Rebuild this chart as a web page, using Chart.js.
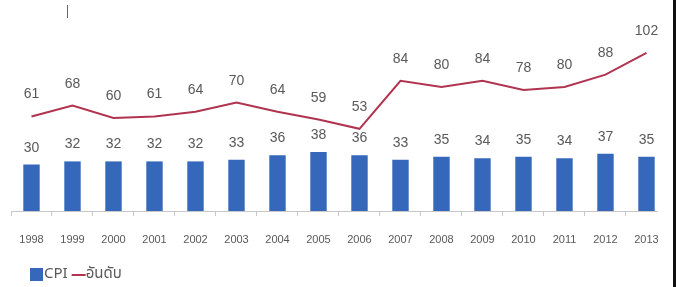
<!DOCTYPE html>
<html>
<head>
<meta charset="utf-8">
<script src="https://cdn.jsdelivr.net/npm/chart.js@4"></script>
<style>
  body { margin: 0; background: #fff; }
  #wrap { position: relative; width: 676px; height: 287px; }
  #clip { position: absolute; left: 0; top: 0; width: 658px; height: 287px; overflow: hidden; }
  #edge { position: absolute; left: 673px; top: 0; width: 3px; height: 287px; background: #111; }
  #mark { position: absolute; left: 67px; top: 5px; width: 1px; height: 13px; background: #666; }
</style>
</head>
<body>
<div id="wrap">
  <div id="clip"><canvas id="chart" width="676" height="287"></canvas></div>
  <div id="mark"></div>
  <div id="edge"></div>
</div>
<script>
// years on the x axis
const years = ["1998", "1999", "2000", "2001", "2002", "2003", "2004", "2005",
  "2006", "2007", "2008", "2009", "2010", "2011", "2012", "2013"];

// CPI score (bars)
const cpi = [30, 32, 32, 32, 32, 33, 36, 38, 36, 33, 35, 34, 35, 34, 37, 35];

// rank (line)
const rank = [61, 68, 60, 61, 64, 70, 64, 59, 53, 84, 80, 84, 78, 80, 88, 102];

const textColor = "#595959";

// draws the number above every bar and point
const valueLabels = {
  id: "valueLabels",
  afterDatasetsDraw(chart) {
    const ctx = chart.ctx;
    ctx.save();
    ctx.font = "14px 'Liberation Sans', sans-serif";
    ctx.fillStyle = textColor;
    ctx.textAlign = "center";
    ctx.textBaseline = "alphabetic";
    chart.data.datasets.forEach((ds, i) => {
      const meta = chart.getDatasetMeta(i);
      const gap = ds.type === "line" ? 18 : 13;
      meta.data.forEach((el, j) => {
        ctx.fillText(ds.data[j], el.x, el.y - gap);
      });
    });
    ctx.restore();
  },
};

// simple legend row under the axis
const legendRow = {
  id: "legendRow",
  afterDraw(chart) {
    const ctx = chart.ctx;
    let x = 30;
    const y = 275;
    ctx.save();
    ctx.font = "15px 'Noto Sans Thai', 'Liberation Sans', sans-serif";
    ctx.textBaseline = "middle";
    ctx.textAlign = "left";
    chart.data.datasets.forEach((ds) => {
      if (ds.type === "line") {
        ctx.strokeStyle = ds.borderColor;
        ctx.lineWidth = 2;
        ctx.beginPath();
        ctx.moveTo(x, y);
        ctx.lineTo(x + 14, y);
        ctx.stroke();
      } else {
        ctx.fillStyle = ds.backgroundColor;
        ctx.fillRect(x, y - 7, 13, 13);
      }
      ctx.fillStyle = textColor;
      ctx.fillText(ds.label, x + 14, y);
      x += 14 + ctx.measureText(ds.label).width + 4;
    });
    ctx.restore();
  },
};

const data = {
  labels: years,
  datasets: [
    {
      type: "bar",
      label: "CPI",
      data: cpi,
      backgroundColor: "#3567bb",
      barPercentage: 0.5,
      categoryPercentage: 0.8,
      order: 1,
    },
    {
      type: "line",
      label: "อันดับ",
      data: rank,
      borderColor: "#b0334f",
      backgroundColor: "#b0334f",
      borderWidth: 2,
      pointRadius: 0,
      tension: 0,
      order: 0,
    },
  ],
};

const config = {
  data: data,
  options: {
    responsive: false,
    animation: false,
    layout: {
      padding: { left: 11, right: 9, top: 25, bottom: 40 },
    },
    plugins: {
      legend: { display: false },
      tooltip: { enabled: false },
    },
    scales: {
      x: {
        offset: true,
        grid: {
          offset: true,
          drawOnChartArea: false,
          drawTicks: true,
          tickLength: 5,
          color: "#c8c8c8",
        },
        border: { color: "#c8c8c8" },
        ticks: {
          padding: 17,
          color: textColor,
          font: { family: "'Liberation Sans Narrow', 'Liberation Sans', sans-serif", size: 11 },
          maxRotation: 0,
        },
        afterFit(scale) {
          scale.height = 36;
        },
      },
      y: {
        display: false,
        min: 0,
        max: 120,
      },
    },
  },
  plugins: [valueLabels, legendRow],
};

const cpiChart = new Chart(document.getElementById("chart"), config);
</script>
</body>
</html>
